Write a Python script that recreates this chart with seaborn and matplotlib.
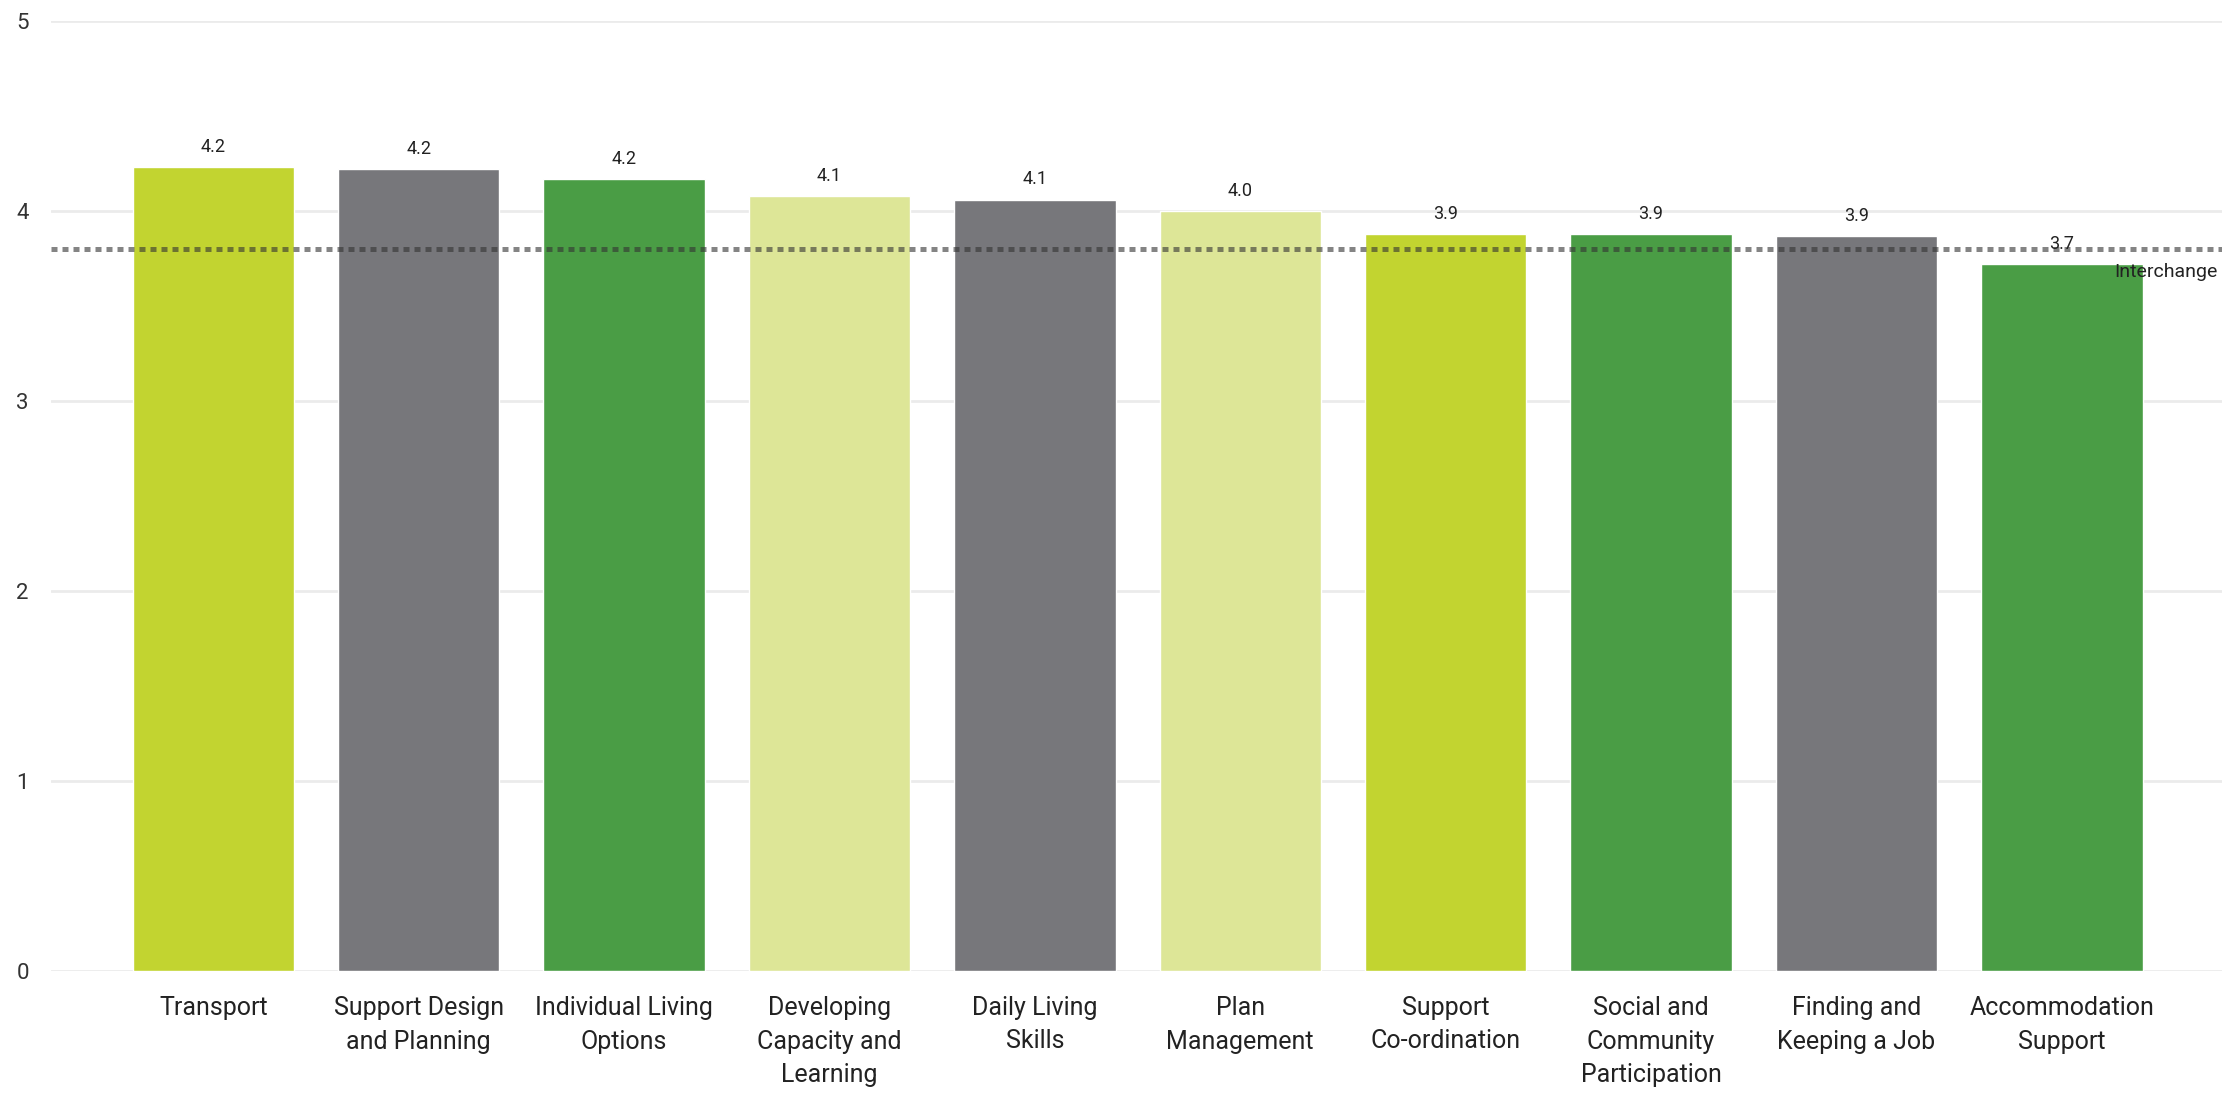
import matplotlib
matplotlib.use("Agg")
import matplotlib.pyplot as plt
import seaborn as sns
import pandas as pd

categories = [
    "Transport",
    "Support Design\nand Planning",
    "Individual Living\nOptions",
    "Developing\nCapacity and\nLearning",
    "Daily Living\nSkills",
    "Plan\nManagement",
    "Support\nCo-ordination",
    "Social and\nCommunity\nParticipation",
    "Finding and\nKeeping a Job",
    "Accommodation\nSupport",
]
scores = [4.23, 4.22, 4.17, 4.08, 4.06, 4.00, 3.88, 3.88, 3.87, 3.72]
bar_colors = ["#C2D430", "#77777B", "#4A9D45", "#DDE697", "#77777B",
              "#DDE697", "#C2D430", "#4A9D45", "#77777B", "#4A9D45"]
interchange_value = 3.8
interchange_label = "Interchange"
y_ticks = [0, 1, 2, 3, 4, 5]

sns.set_theme(style="white")
plt.rcParams["font.family"] = ["Roboto", "DejaVu Sans"]

df = pd.DataFrame({"category": categories, "score": scores})

fig = plt.figure(figsize=(22.22, 10.93), dpi=100)
ax = fig.add_axes([51 / 2222, 1 - 971 / 1093, 1 - 51 / 2222, (971 - 21) / 1093])

sns.barplot(data=df, x="category", y="score", hue="category",
            palette=bar_colors, legend=False, width=0.786, saturation=1,
            ax=ax, zorder=2)

ax.set_ylim(0, 5)
ax.set_xlim(-0.79, len(categories) - 1 + 0.78)
ax.set_yticks(y_ticks)
ax.yaxis.grid(True, color="#EBEBEB", linewidth=2, zorder=0)
ax.set_axisbelow(True)
for s in ax.spines.values():
    s.set_visible(False)
ax.set_xlabel("")
ax.set_ylabel("")
ax.tick_params(axis="y", length=0, pad=16, labelsize=16, labelcolor="#333333")
ax.tick_params(axis="x", length=0, pad=18, labelsize=18, labelcolor="#222222")
for lbl in ax.get_xticklabels():
    lbl.set_linespacing(1.5)

# value labels above each bar
for i, v in enumerate(scores):
    ax.annotate(f"{v:.1f}", (i, v), xytext=(0, 8), textcoords="offset points",
                ha="center", va="bottom", fontsize=13, color="#222222", zorder=4)

# reference line
ax.axhline(interchange_value, color="#333333", alpha=0.6, linewidth=3.6,
           linestyle=(0, (1.2, 1.0)), zorder=3)
ax.text(0.998, interchange_value - 0.075, interchange_label, transform=ax.get_yaxis_transform(),
        ha="right", va="top", fontsize=14, color="#222222", zorder=4)

fig.savefig("out.png", dpi=100)
